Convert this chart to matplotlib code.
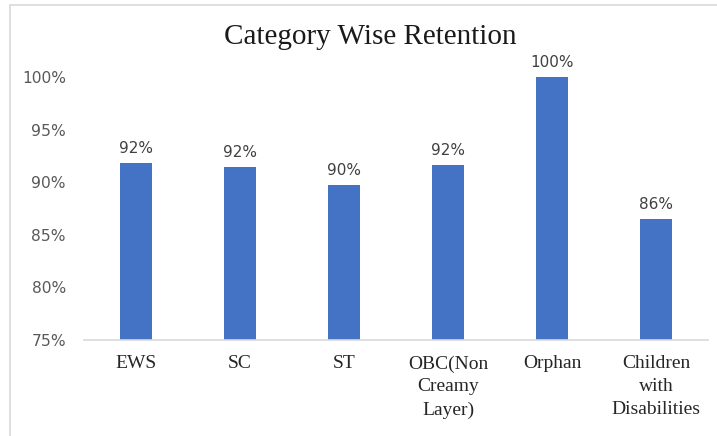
import matplotlib.pyplot as plt
from matplotlib.patches import Rectangle

categories = ['EWS', 'SC', 'ST', 'OBC(Non\nCreamy\nLayer)', 'Orphan', 'Children\nwith\nDisabilities']
retention = [91.8, 91.4, 89.7, 91.6, 100.0, 86.5]
labels = ['92%', '92%', '90%', '92%', '100%', '86%']
yticks = [75, 80, 85, 90, 95, 100]

fig = plt.figure(figsize=(7.17, 4.36), dpi=100)
# light frame of the chart area (only top and left are visible in the crop)
fig.patches.append(Rectangle((10 / 717, -0.1), 1.2, (436 - 5) / 436 + 0.1,
                             transform=fig.transFigure, fill=False,
                             edgecolor='#d9d9d9', linewidth=1.2))

ax = fig.add_axes([84 / 717, 96 / 436, 624 / 717, 263 / 436])
x = range(len(categories))
ax.bar(x, [v - 75 for v in retention], bottom=75, width=0.31, color='#4472c4')
for i, (v, s) in enumerate(zip(retention, labels)):
    ax.text(i, v + 0.7, s, ha='center', va='bottom', fontsize=11,
            color='#404040', family='DejaVu Sans')

ax.set_ylim(75, 100)
ax.set_xlim(-0.5, len(categories) - 0.5)
ax.set_yticks(yticks)
ax.set_yticklabels([f'{t}%' for t in yticks], fontsize=11.2, color='#595959')
ax.set_xticks(list(x))
ax.set_xticklabels(categories, fontsize=14, family='Liberation Serif',
                   color='#262626', linespacing=1.45)
ax.tick_params(axis='y', length=0, pad=13)
ax.tick_params(axis='x', length=0, pad=11)
for sp in ['top', 'right', 'left']:
    ax.spines[sp].set_visible(False)
ax.spines['bottom'].set_color('#d9d9d9')
ax.spines['bottom'].set_linewidth(1.2)

fig.text(370 / 717, 1 - 37 / 436, 'Category Wise Retention', ha='center', va='center',
         fontsize=21, family='Liberation Serif', color='#1a1a1a')

fig.savefig('out.png', dpi=100)
